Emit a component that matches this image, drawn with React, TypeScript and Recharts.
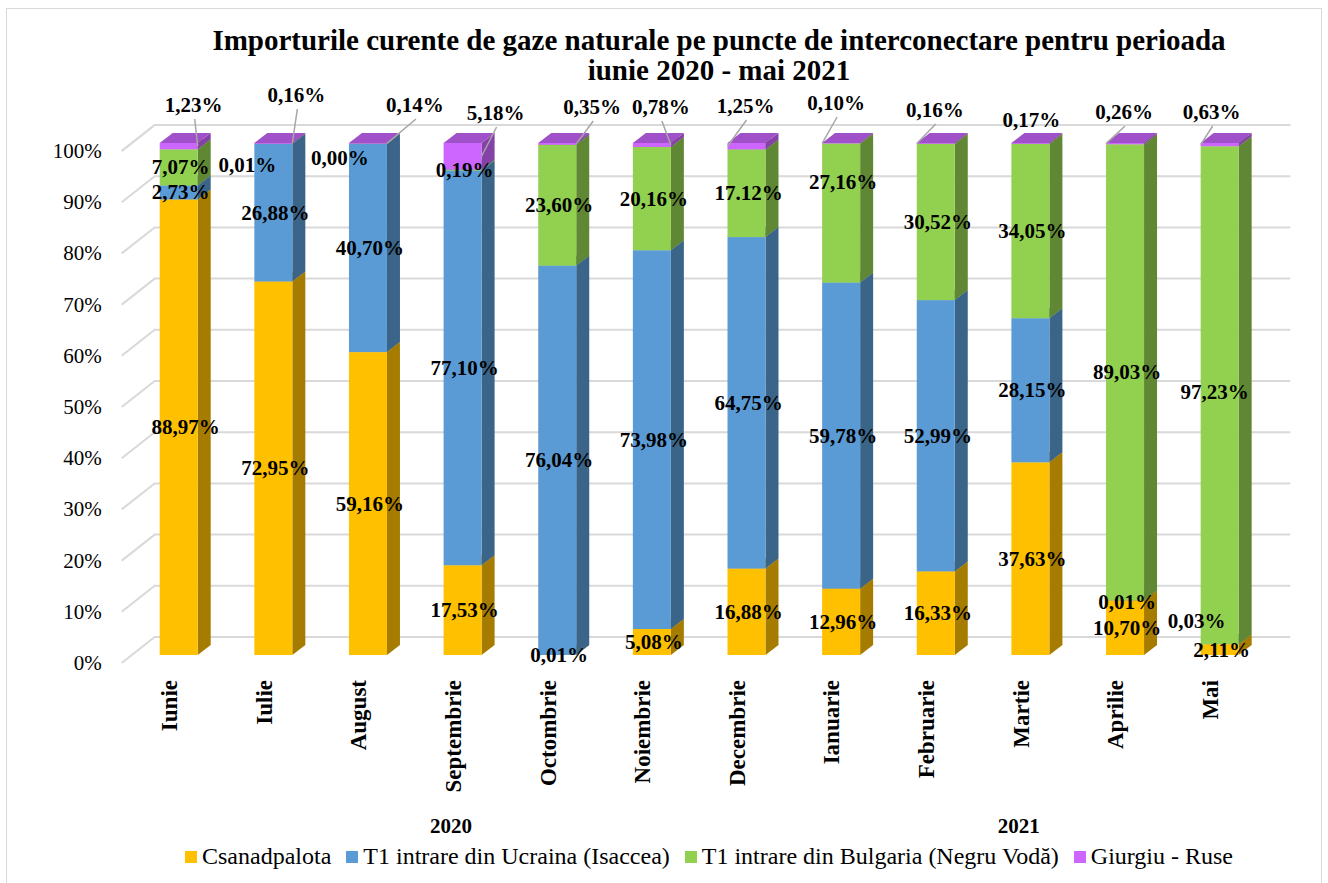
import { Bar, BarChart, CartesianGrid, LabelList, XAxis, YAxis } from "recharts";

const months = [
  "Iunie", "Iulie", "August", "Septembrie", "Octombrie", "Noiembrie",
  "Decembrie", "Ianuarie", "Februarie", "Martie", "Aprilie", "Mai",
];
const years = ["2020", "2020", "2020", "2020", "2020", "2020", "2020", "2021", "2021", "2021", "2021", "2021"];

const csanadpalota = [88.97, 72.95, 59.16, 17.53, 0.01, 5.08, 16.88, 12.96, 16.33, 37.63, 10.7, 2.11];
const ucraina = [2.73, 26.88, 40.7, 77.1, 76.04, 73.98, 64.75, 59.78, 52.99, 28.15, 0.01, 0.03];
const bulgaria = [7.07, 0.01, 0.0, 0.19, 23.6, 20.16, 17.12, 27.16, 30.52, 34.05, 89.03, 97.23];
const giurgiu = [1.23, 0.16, 0.14, 5.18, 0.35, 0.78, 1.25, 0.1, 0.16, 0.17, 0.26, 0.63];

const yTicks = [0, 10, 20, 30, 40, 50, 60, 70, 80, 90, 100];

const data = months.map((month, i) => ({
  month,
  csanadpalota: csanadpalota[i],
  ucraina: ucraina[i],
  bulgaria: bulgaria[i],
  giurgiu: giurgiu[i],
}));

const series = [
  { key: "csanadpalota", name: "Csanadpalota", values: csanadpalota, front: "#FFC000", side: "#A67C00", top: "#CC9A00" },
  { key: "ucraina", name: "T1 intrare din Ucraina (Isaccea)", values: ucraina, front: "#5B9BD5", side: "#3B6489", top: "#4A7FB0" },
  { key: "bulgaria", name: "T1 intrare din Bulgaria (Negru Vodă)", values: bulgaria, front: "#92D050", side: "#5F8734", top: "#76A940" },
  { key: "giurgiu", name: "Giurgiu - Ruse", values: giurgiu, front: "#CC66FF", side: "#8442A6", top: "#A050C8" },
];

const FONT = '"Liberation Serif", "Times New Roman", Times, serif';
const DEPTH_X = 13;
const DEPTH_Y = 10;

// labels that were dragged away from the middle of their segment in the original
const nudges: Record<string, [number, number]> = {
  "bulgaria-1": [-28, 21],
  "bulgaria-2": [-30, 14],
  "bulgaria-7": [0, -31],
  "bulgaria-11": [-7, -3],
  "ucraina-10": [0, 2],
  "ucraina-11": [-25, -23],
  "csanadpalota-0": [5, 0],
};

// giurgiu labels sit above the bars with a leader line: [dx, dy, attach side]
const callouts: [number, number, string][] = [
  [15, -38, "r"], [23, -48, "r"], [47, -38, "r"], [33, -30, "r"],
  [35, -36, "r"], [9, -36, "r"], [-1, -37, "l"], [-5, -40, "l"],
  [-1, -33, "l"], [1, -23, ""], [-1, -31, "l"], [-8, -31, "l"],
];

const fmt = (key: string, i: number, v: number) => {
  if (key === "bulgaria" && i === 6) return "17.12%";
  return v.toFixed(2).replace(".", ",") + "%";
};

const Box3D = (props: any) => {
  const { x, y, width: w, height: h, colors } = props;
  if (x == null || y == null) return null;
  return (
    <g>
      <polygon
        points={`${x + w},${y + h} ${x + w + DEPTH_X},${y + h - DEPTH_Y} ${x + w + DEPTH_X},${y - DEPTH_Y} ${x + w},${y}`}
        fill={colors.side}
      />
      <polygon
        points={`${x},${y} ${x + DEPTH_X},${y - DEPTH_Y} ${x + w + DEPTH_X},${y - DEPTH_Y} ${x + w},${y}`}
        fill={colors.top}
      />
      <rect x={x} y={y} width={w} height={Math.max(h, 0)} fill={colors.front} />
    </g>
  );
};

const makeLabel = (s: (typeof series)[number]) => (p: any) => {
  const { x, y, width, height, index } = p;
  const text = fmt(s.key, index, s.values[index]);
  const style = { fontFamily: FONT, fontSize: 21, fontWeight: 700, fill: "#000" };
  if (s.key === "giurgiu") {
    const [dx, dy, side] = callouts[index];
    const cx = x + width / 2;
    const lx = cx + dx;
    const ly = y + dy;
    const ex = side === "r" ? x + width : x;
    const ey = y + height / 2;
    return (
      <g key={`g-${index}`}>
        {side && <line x1={lx + 1} y1={ly + 14} x2={ex} y2={ey} stroke="#a6a6a6" strokeWidth={1.5} />}
        <text x={lx} y={ly} textAnchor="middle" dominantBaseline="central" {...style}>
          {text}
        </text>
      </g>
    );
  }
  const [ndx, ndy] = nudges[`${s.key}-${index}`] || [0, 0];
  return (
    <text
      key={`${s.key}-${index}`}
      x={x + width / 2 + 2 + ndx}
      y={y + height / 2 + ndy}
      textAnchor="middle"
      dominantBaseline="central"
      {...style}
    >
      {text}
    </text>
  );
};

const gridLine = (p: any) => {
  const { x1, x2, y1 } = p;
  return (
    <polyline
      key={p.key ?? `grid-${y1}`}
      points={`${x1 - 10},${y1 + 8} ${x1 + 23},${y1 - 18} ${x2 + 23},${y1 - 18}`}
      fill="none"
      stroke="#d9d9d9"
      strokeWidth={2}
    />
  );
};

const YTick = ({ x, y, payload }: any) => (
  <text x={x - 30} y={y + 8} textAnchor="end" dominantBaseline="central" fontFamily={FONT} fontSize={21} fill="#000">
    {payload.value}%
  </text>
);

const MonthTick = ({ x, y, payload }: any) => (
  <text
    x={x - 2}
    y={y + 25}
    transform={`rotate(-90 ${x - 2} ${y + 25})`}
    textAnchor="end"
    fontFamily={FONT}
    fontSize={23}
    fontWeight={700}
    fill="#000"
  >
    {payload.value}
  </text>
);

const YearTick = ({ x, y, index }: any) => {
  if (index !== 3 && index !== 9) return <g />;
  return (
    <text x={x - 12} y={y + 21} textAnchor="middle" dominantBaseline="central" fontFamily={FONT} fontSize={21} fontWeight={700} fill="#000">
      {years[index]}
    </text>
  );
};

export default function App() {
  return (
    <div style={{ position: "absolute", left: 0, top: 0, width: 1328, height: 883, overflow: "hidden", background: "#fff" }}>
      <div
        style={{
          position: "absolute",
          left: 6,
          top: 8,
          width: 1316,
          height: 900,
          border: "1px solid #d9d9d9",
          boxSizing: "border-box",
        }}
      />
      <div
        style={{
          position: "absolute",
          left: 110,
          top: 25,
          width: 1218,
          textAlign: "center",
          fontFamily: FONT,
          fontWeight: 700,
          fontSize: 29,
          lineHeight: "30px",
          color: "#000",
        }}
      >
        Importurile curente de gaze naturale pe puncte de interconectare pentru perioada
        <br />
        iunie 2020 - mai 2021
      </div>
      <div style={{ position: "absolute", left: 0, top: 0 }}>
        <BarChart
          width={1328}
          height={883}
          data={data}
          barSize={38}
          margin={{ top: 143, right: 60.7, bottom: 38, left: 0 }}
        >
          <CartesianGrid vertical={false} horizontal={gridLine} />
          <YAxis
            type="number"
            domain={[0, 100]}
            ticks={yTicks}
            width={131.7}
            axisLine={false}
            tickLine={false}
            tickSize={0}
            tickMargin={0}
            tick={<YTick />}
          />
          <XAxis
            dataKey="month"
            height={150}
            axisLine={false}
            tickLine={false}
            tickSize={0}
            tickMargin={0}
            interval={0}
            tick={<MonthTick />}
          />
          <XAxis
            xAxisId="year"
            dataKey="month"
            height={40}
            axisLine={false}
            tickLine={false}
            tickSize={0}
            tickMargin={0}
            interval={0}
            tick={<YearTick />}
          />
          {series.map((s) => (
            <Bar
              key={s.key}
              dataKey={s.key}
              name={s.name}
              stackId="a"
              fill={s.front}
              isAnimationActive={false}
              shape={(p: any) => <Box3D {...p} colors={s} />}
            >
              <LabelList dataKey={s.key} content={makeLabel(s)} />
            </Bar>
          ))}
        </BarChart>
      </div>
      <div
        style={{
          position: "absolute",
          left: 185,
          top: 843,
          display: "flex",
          alignItems: "center",
          fontFamily: FONT,
          fontSize: 24,
          color: "#000",
          whiteSpace: "nowrap",
        }}
      >
        {series.map((s) => (
          <div key={s.key} style={{ display: "flex", alignItems: "center", marginRight: 15 }}>
            <span style={{ display: "inline-block", width: 12, height: 12, background: s.front, marginRight: 5 }} />
            {s.name}
          </div>
        ))}
      </div>
    </div>
  );
}
